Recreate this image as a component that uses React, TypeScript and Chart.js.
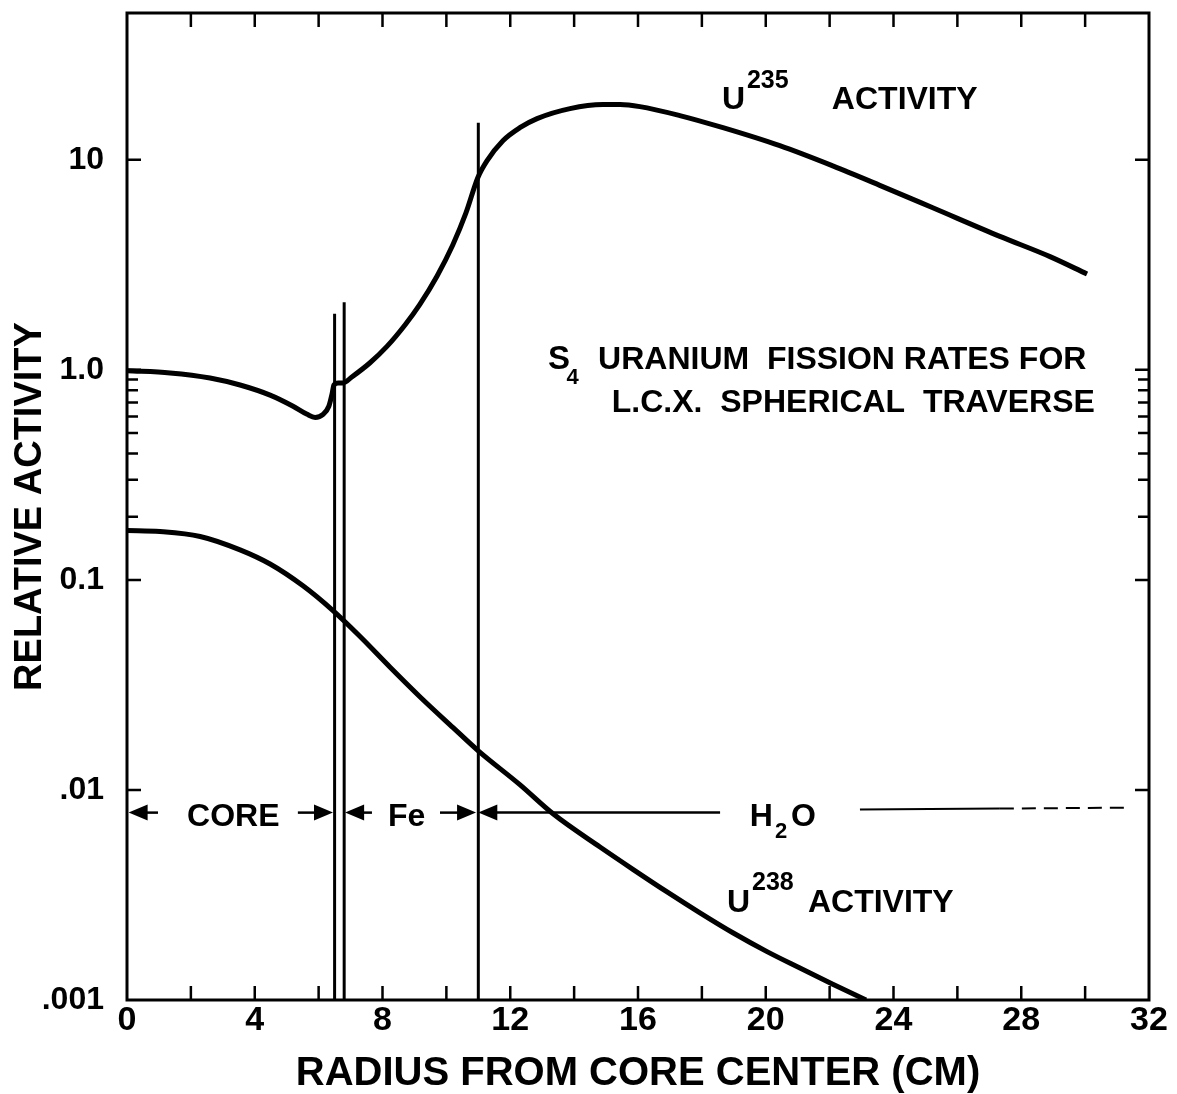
import { useEffect, useRef } from "react";
import { Chart, registerables } from "chart.js";

Chart.register(...registerables);

// ---- data ----
const radiusU235 = [0, 1.35, 2.6, 3.54, 4.48, 5.2, 5.64, 5.89, 6.14, 6.32, 6.42, 6.48, 6.61, 6.76, 7.04, 7.61, 8.14, 8.71, 9.17, 9.71, 10.2, 10.61, 10.99, 11.27, 11.77, 12.3, 12.84, 13.87, 14.9, 15.44, 16.06, 17.31, 18.66, 20.44, 22.1, 23.57, 25.23, 27.33, 28.9, 30.06];
const activityU235 = [0.99, 0.967, 0.915, 0.847, 0.758, 0.671, 0.614, 0.594, 0.614, 0.671, 0.767, 0.847, 0.866, 0.866, 0.925, 1.081, 1.293, 1.64, 2.05, 2.8, 3.93, 5.57, 8.26, 9.89, 12.33, 14.22, 15.71, 17.53, 18.33, 18.33, 17.92, 16.24, 14.22, 11.67, 9.35, 7.56, 5.91, 4.32, 3.46, 2.86];

const radiusU238 = [0, 1.03, 2.29, 3.54, 4.48, 5.51, 6.45, 7.29, 8.23, 9.17, 10.21, 10.99, 12.3, 13.34, 14.81, 15.84, 16.91, 17.94, 18.97, 20.04, 21.07, 22.1, 23.14];
const activityU238 = [0.172, 0.17, 0.161, 0.139, 0.119, 0.0937, 0.0714, 0.0539, 0.0385, 0.0278, 0.0198, 0.0154, 0.0106, 0.0077, 0.00535, 0.00419, 0.00327, 0.0026, 0.00209, 0.0017, 0.00142, 0.00119, 0.001];

const boundaryRadii = [6.5, 6.8, 11.0];
const boundaryTops = [1.85, 2.1, 15.0];

const xTickValues = [0, 4, 8, 12, 16, 20, 24, 28, 32];
const xInnerTicks = [2, 4, 6, 8, 10, 12, 14, 16, 18, 20, 22, 24, 26, 28, 30];
const yTickValues = [0.001, 0.01, 0.1, 1, 10];
const yTickLabels = [".001", ".01", "0.1", "1.0", "10"];
const yMajorMarks = [0.01, 0.1, 1, 10];
const yMinorMarks = [0.2, 0.3, 0.4, 0.5, 0.6, 0.7, 0.8, 0.9];

// region arrows: shaft from -> arrowhead at tip (radius, cm)
const arrowFrom = [0.97, 5.35, 7.67, 9.8, 18.57];
const arrowTip = [0.05, 6.45, 6.83, 10.93, 11.0];
const arrowRowActivity = 0.0078;
const waterSolid = [22.95, 27.33];
const waterDashed = [27.33, 31.3];

const FONT = "'Liberation Sans', Arial, 'DejaVu Sans', sans-serif";

type Piece = { text: string; r: number; a: number; size: number };
const textPieces: Piece[] = [
  { text: "U", r: 18.63, a: 17.5, size: 32 },
  { text: "235", r: 19.41, a: 22.0, size: 25 },
  { text: "ACTIVITY", r: 22.07, a: 17.5, size: 32 },
  { text: "S", r: 13.18, a: 1.01, size: 33 },
  { text: "4", r: 13.76, a: 0.86, size: 22 },
  { text: "URANIUM  FISSION RATES FOR", r: 14.75, a: 1.01, size: 32 },
  { text: "L.C.X.  SPHERICAL  TRAVERSE", r: 15.18, a: 0.63, size: 32 },
  { text: "U", r: 18.79, a: 0.00262, size: 32 },
  { text: "238", r: 19.57, a: 0.00334, size: 25 },
  { text: "ACTIVITY", r: 21.32, a: 0.00262, size: 32 },
  { text: "CORE", r: 1.88, a: 0.00673, size: 32 },
  { text: "Fe", r: 8.17, a: 0.00673, size: 32 },
  { text: "H", r: 19.5, a: 0.00673, size: 32 },
  { text: "2", r: 20.29, a: 0.0059, size: 22 },
  { text: "O", r: 20.79, a: 0.00673, size: 32 },
];

const paperPlugin = {
  id: "paper",
  afterDatasetsDraw(chart: any) {
    const { ctx, chartArea: a, scales } = chart;
    const x = scales.x;
    const y = scales.y;
    ctx.save();
    ctx.strokeStyle = "#000";
    ctx.fillStyle = "#000";
    ctx.lineCap = "butt";
    // frame
    ctx.lineWidth = 3;
    ctx.strokeRect(a.left, a.top, a.right - a.left, a.bottom - a.top);
    // inward ticks
    ctx.lineWidth = 2.5;
    ctx.beginPath();
    for (const v of xInnerTicks) {
      const px = x.getPixelForValue(v);
      ctx.moveTo(px, a.bottom);
      ctx.lineTo(px, a.bottom - 14);
      ctx.moveTo(px, a.top);
      ctx.lineTo(px, a.top + 14);
    }
    for (const v of yMajorMarks) {
      const py = y.getPixelForValue(v);
      ctx.moveTo(a.left, py);
      ctx.lineTo(a.left + 14, py);
      ctx.moveTo(a.right, py);
      ctx.lineTo(a.right - 14, py);
    }
    for (const v of yMinorMarks) {
      const py = y.getPixelForValue(v);
      ctx.moveTo(a.left, py);
      ctx.lineTo(a.left + 11, py);
      ctx.moveTo(a.right, py);
      ctx.lineTo(a.right - 11, py);
    }
    ctx.stroke();

    // region arrows
    const ry = y.getPixelForValue(arrowRowActivity);
    ctx.lineWidth = 2.5;
    for (let i = 0; i < arrowFrom.length; i++) {
      const f = x.getPixelForValue(arrowFrom[i]);
      const t = x.getPixelForValue(arrowTip[i]);
      const dir = t > f ? 1 : -1;
      ctx.beginPath();
      ctx.moveTo(f, ry);
      ctx.lineTo(t - dir * 10, ry);
      ctx.stroke();
      ctx.beginPath();
      ctx.moveTo(t, ry);
      ctx.lineTo(t - dir * 19, ry - 8);
      ctx.lineTo(t - dir * 19, ry + 8);
      ctx.closePath();
      ctx.fill();
    }
    ctx.lineWidth = 2;
    ctx.beginPath();
    ctx.moveTo(x.getPixelForValue(waterSolid[0]), ry - 3);
    ctx.lineTo(x.getPixelForValue(waterSolid[1]), ry - 4);
    ctx.stroke();
    ctx.setLineDash([14, 8]);
    ctx.beginPath();
    ctx.moveTo(x.getPixelForValue(waterDashed[0]), ry - 4);
    ctx.lineTo(x.getPixelForValue(waterDashed[1]), ry - 5);
    ctx.stroke();
    ctx.setLineDash([]);

    // annotation text
    ctx.textAlign = "left";
    ctx.textBaseline = "alphabetic";
    for (const p of textPieces) {
      ctx.font = `bold ${p.size}px ${FONT}`;
      ctx.fillText(p.text, x.getPixelForValue(p.r), y.getPixelForValue(p.a));
    }
    ctx.restore();
  },
};

export default function App() {
  const ref = useRef<HTMLCanvasElement | null>(null);

  useEffect(() => {
    if (!ref.current) return;
    const curve = (xs: number[], ys: number[]) => xs.map((v, i) => ({ x: v, y: ys[i] }));
    const boundarySets = boundaryRadii.map((r, i) => ({
      data: [
        { x: r, y: 0.001 },
        { x: r, y: boundaryTops[i] },
      ],
      borderColor: "#000",
      borderWidth: 3,
      pointRadius: 0,
      tension: 0,
    }));
    const chart = new Chart(ref.current, {
      type: "line",
      data: {
        datasets: [
          {
            label: "U235 activity",
            data: curve(radiusU235, activityU235),
            borderColor: "#000",
            borderWidth: 5,
            pointRadius: 0,
            cubicInterpolationMode: "monotone",
          },
          {
            label: "U238 activity",
            data: curve(radiusU238, activityU238),
            borderColor: "#000",
            borderWidth: 5,
            pointRadius: 0,
            cubicInterpolationMode: "monotone",
          },
          ...boundarySets,
        ] as any,
      },
      options: {
        responsive: false,
        animation: false,
        layout: { padding: { top: 13, right: 28, left: 0, bottom: 0 } },
        plugins: { legend: { display: false }, tooltip: { enabled: false } },
        scales: {
          x: {
            type: "linear",
            min: 0,
            max: 32,
            grid: { display: false, drawTicks: false },
            border: { display: false },
            afterBuildTicks: (s: any) => {
              s.ticks = xTickValues.map((v) => ({ value: v }));
            },
            ticks: {
              color: "#000",
              font: { family: FONT, size: 34, weight: "bold" },
              padding: 0,
              maxRotation: 0,
              autoSkip: false,
            },
            title: {
              display: true,
              text: "RADIUS FROM CORE CENTER (CM)",
              color: "#000",
              font: { family: FONT, size: 40, weight: "bold", lineHeight: 1 },
              padding: { top: 0, bottom: 0 },
            },
            afterFit: (s: any) => {
              s.height = 94;
              s.paddingLeft = 0;
              s.paddingRight = 0;
            },
          },
          y: {
            type: "logarithmic",
            min: 0.001,
            max: 50,
            grid: { display: false, drawTicks: false },
            border: { display: false },
            afterBuildTicks: (s: any) => {
              s.ticks = yTickValues.map((v) => ({ value: v }));
            },
            ticks: {
              color: "#000",
              font: { family: FONT, size: 32, weight: "bold" },
              padding: 23,
              autoSkip: false,
              callback: (_v: any, i: number) => yTickLabels[i],
            },
            title: {
              display: true,
              text: "RELATIVE ACTIVITY",
              color: "#000",
              font: { family: FONT, size: 38, weight: "bold", lineHeight: 1 },
              padding: { top: 12, bottom: 0 },
            },
            afterFit: (s: any) => {
              s.width = 127;
              s.paddingTop = 0;
              s.paddingBottom = 0;
            },
          },
        },
      } as any,
      plugins: [paperPlugin],
    });
    return () => chart.destroy();
  }, []);

  return (
    <div style={{ position: "absolute", left: 0, top: 0, width: 1177, height: 1094, background: "#fff" }}>
      <canvas ref={ref} width={1177} height={1094} style={{ display: "block" }} />
    </div>
  );
}
